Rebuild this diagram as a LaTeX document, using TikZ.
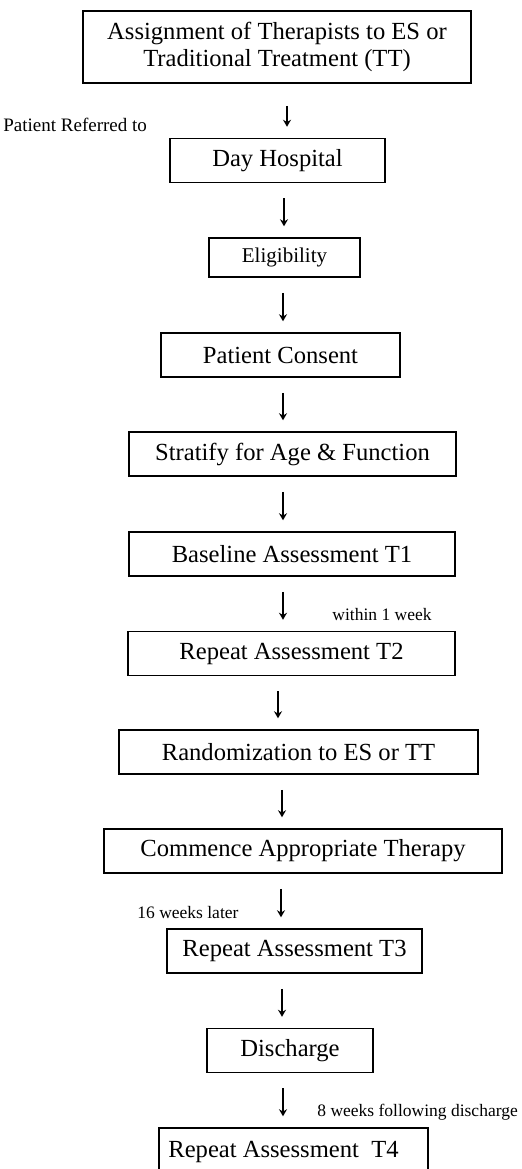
\documentclass[tikz,border=0pt]{standalone}
\usepackage{fontspec}
\setmainfont{Liberation Serif}
\usetikzlibrary{positioning, arrows.meta}

\begin{document}
\begin{tikzpicture}[x=0.5pt, y=-0.5pt]
  \tikzset{
    stage/.style={
      draw,
      line width=0.75pt,
      minimum height=22pt,
      anchor=center,
      inner sep=0pt,
      font=\fontsize{12.3}{13.5}\selectfont
    },
    flow/.style={
      -{Stealth[length=3.5pt,width=4pt]},
      line width=0.65pt,
      shorten <=7.5pt,
      shorten >=5.5pt
    },
    timing/.style={
      anchor=west,
      inner sep=0pt,
      font=\fontsize{8.75}{10}\selectfont
    }
  }
  \useasboundingbox (0,0) rectangle (521,1169);

  % Draw the stages
    \node[stage, align=center, minimum width=194pt, minimum height=36pt] at (277, 47) (assign) {
        Assignment of Therapists to ES or\\Traditional Treatment (TT)
    };
    \node[stage, minimum width=107.5pt] at (277.5, 160.5) (hospital) {
        Day Hospital
    };
    \node[stage, minimum width=75.5pt, minimum height=19.5pt,
          font=\fontsize{10.5}{12}\selectfont] at (284.5, 257.5) (eligible) {
        Eligibility
    };
    \node[stage, minimum width=119.5pt] at (280.5, 355) (consent) {
        Patient Consent
    };
    \node[stage, minimum width=163.5pt] at (292.5, 454) (stratify) {
        Stratify for Age \& Function
    };
    \node[stage, minimum width=163pt] at (292, 554) (baseline) {
        Baseline Assessment T1
    };
    \node[stage, minimum width=163.5pt] at (291.5, 653.5) (repeatA) {
        Repeat Assessment T2
    };
    \node[stage, minimum width=179.5pt] at (298.5, 752) (random) {
        Randomization to ES or TT
    };
    \node[stage, minimum width=199pt] at (303, 851) (therapy) {
        Commence Appropriate Therapy
    };
    \node[stage, minimum width=127.5pt] at (294.5, 951) (repeatB) {
        Repeat Assessment T3
    };
    \node[stage, minimum width=83pt] at (290, 1050.5) (discharge) {
        Discharge
    };
    \node[stage, minimum width=134.5pt, minimum height=24pt] at (293.5, 1152) (repeatC) {
        Repeat Assessment\ \ T4\hspace{10pt}
    };

  % Draw the arrows between stages
    \draw[flow, shorten <=11pt] (assign.south -| 287,0) -- (hospital.north -| 287,0);
    \foreach \from/\to/\col in {hospital/eligible/284, eligible/consent/283,
        consent/stratify/283, stratify/baseline/283, baseline/repeatA/283,
        repeatA/random/278, random/therapy/282, therapy/repeatB/281,
        repeatB/discharge/282, discharge/repeatC/283}
      \draw[flow] (\from.south -| \col,0) -- (\to.north -| \col,0);

  % Add timing notes
    \node[timing, font=\fontsize{9.5}{11}\selectfont] at (3, 125) (referred) {Patient Referred to};
    \node[timing] at (332, 615) (week) {within 1 week};
    \node[timing] at (137, 913) (sixteen) {16 weeks later};
    \node[timing] at (317, 1112) (eight) {8 weeks following discharge};

\end{tikzpicture}
\end{document}
